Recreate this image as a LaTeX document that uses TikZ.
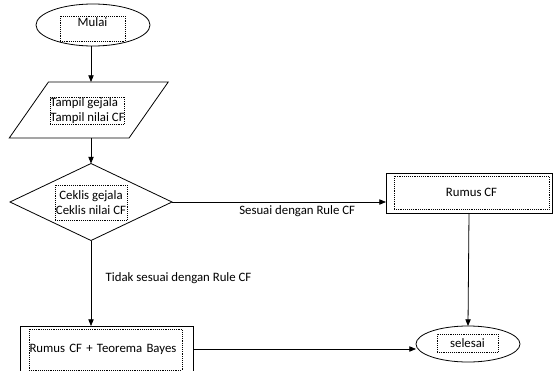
\documentclass[tikz,border=0pt]{standalone}
\usepackage{fontspec}
\setmainfont{Carlito}
\usetikzlibrary{shapes.geometric,arrows.meta}

\begin{document}
\begin{tikzpicture}[x=0.75pt,y=-0.75pt,
    every node/.style={font=\fontsize{9.6}{11.5}\selectfont, inner sep=0pt, outer sep=0pt},
    outline/.style={draw, line width=0.6pt},
    txtbox/.style={draw, densely dotted, line width=0.4pt},
    flow/.style={draw, line width=0.6pt, -{Triangle[length=5pt,width=4pt]}}]
    \useasboundingbox (0,0) rectangle (553,371);
    \clip (0,0) rectangle (553,371);
    % outer shapes
    \node[outline, ellipse, minimum width=114*0.75pt, minimum height=42*0.75pt] (mulai) at (93,25) {};
    \node[outline, trapezium, trapezium left angle=55, trapezium right angle=125, trapezium stretches body,
          minimum width=159*0.75pt] (tampil) at (88.75,110) {\rule{0pt}{42pt}};
    \node[outline, diamond, minimum width=162*0.75pt, minimum height=77*0.75pt] (ceklis) at (91,202) {};
    \node[outline, rectangle, minimum width=166*0.75pt, minimum height=40*0.75pt] (rumus) at (469,193) {};
    \node[outline, rectangle, minimum width=173*0.75pt, minimum height=46*0.75pt] (bayes) at (106.5,349) {};
    \node[outline, ellipse, minimum width=104*0.75pt, minimum height=36*0.75pt] (selesai) at (468,344) {};
    % dotted text boxes
    \node[txtbox, minimum width=65*0.75pt, minimum height=25*0.75pt,
          label={[anchor=north, yshift=-1.5pt]north:Mulai}] (tmulai) at (92.5,28.5) {};
    \node[txtbox, minimum width=73*0.75pt, minimum height=27*0.75pt, align=left] (ttampil) at (87.5,110.5)
          {Tampil gejala\\Tampil nilai CF};
    \node[txtbox, minimum width=72*0.75pt, minimum height=35*0.75pt, align=center] (tceklis) at (91,202.5)
          {Ceklis gejala\\Ceklis nilai CF};
    \node[txtbox, minimum width=155*0.75pt, minimum height=33*0.75pt] (trumus) at (471.5,192.5) {Rumus CF};
    \node[txtbox, minimum width=153*0.75pt, minimum height=41*0.75pt, text width=152*0.75pt, align=left]
          (tbayes) at (105.5,349.5) {Rumus CF + Teorema Bayes};
    \node[txtbox, minimum width=61*0.75pt, minimum height=18*0.75pt] (tselesai) at (467.5,343) {selesai};
    % connectors
    \draw[flow] (mulai.south -| ceklis) -- (tampil.north -| ceklis);
    \draw[flow] (tampil.south -| ceklis) -- (ceklis.north);
    \draw[flow] (ceklis.east) -- (ceklis.east -| rumus.west)
        node[pos=0.585, below=3pt] (lsesuai) {Sesuai dengan Rule CF};
    \draw[flow] (ceklis.south) -- (ceklis.south |- bayes.north)
        node[pos=0.44, right=11pt] (ltidak) {Tidak sesuai dengan Rule CF};
    \draw[flow] (rumus.south) -- (selesai.north);
    \draw[flow] (bayes.east) -- (bayes.east -| selesai.west);
\end{tikzpicture}
\end{document}
